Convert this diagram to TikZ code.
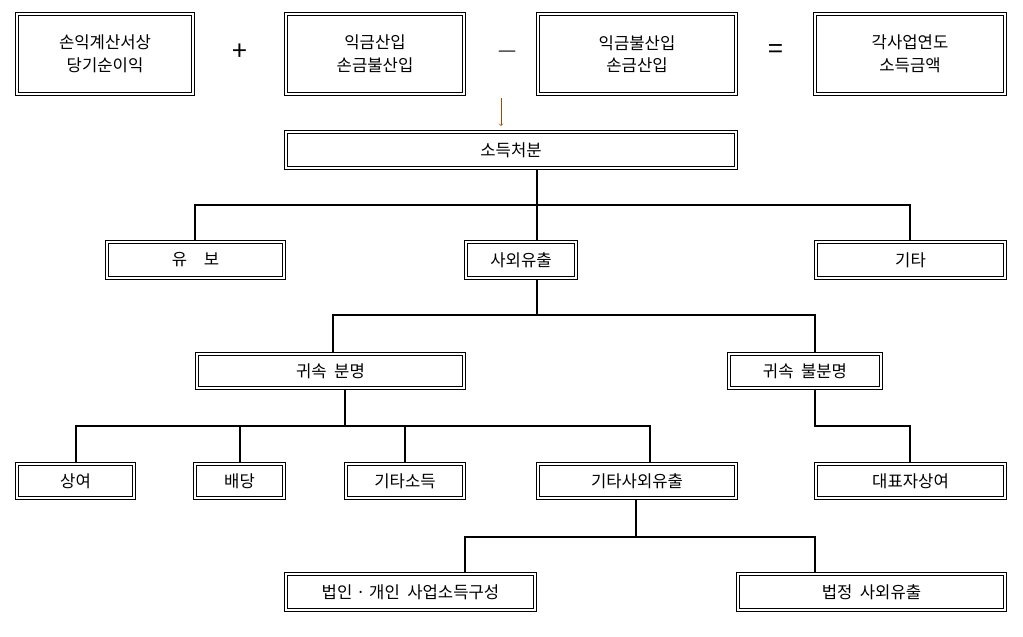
\documentclass[tikz,border=0pt]{standalone}
\usepackage{fontspec}
\setmainfont{Noto Sans CJK KR}
\usetikzlibrary{positioning}
\tikzset{
  box/.style={draw=black, line width=1.1pt, double=white, double distance=1.1pt,
    inner sep=0pt, font=\fontsize{12.5}{17}\selectfont, align=center},
  link/.style={line width=0.8pt},
  sign/.style={font=\fontsize{20}{20}\selectfont}
}
\newcommand{\pbox}[6]{% name, x1, y1, x2, y2, text
  \node[box, minimum width={(#4-#2-4)*0.75pt}, minimum height={(#5-#3-4)*0.75pt}]
    (#1) at ({(#2+#4)/2},{(#3+#5)/2}) {#6};}
\begin{document}
\begin{tikzpicture}[x=0.75pt,y=-0.75pt]
  \useasboundingbox (0,0) rectangle (1023,636);
  % top row
  \pbox{ik}{15}{12}{195}{96}{손익계산서상\\당기순이익}
  \pbox{plus}{284}{12}{466}{96}{익금산입\\손금불산입}
  \pbox{minus}{536}{12}{738}{96}{익금불산입\\손금산입}
  \pbox{sodeuk}{813}{12}{1007}{96}{각사업연도\\소득금액}
  \node[sign] (s1) at (240,52) {+};
  \node[sign] (s2) at (507,52) {$-$};
  \node[sign] (s3) at (776,52) {=};
  % second level
  \pbox{cheo}{284}{130}{738}{170}{소득처분}
  \coordinate (arrtop) at (501,98);
  \draw[->, thin, color=orange!60!black] (arrtop) -- (501,126);
  \pbox{yubo}{105}{240}{286}{280}{유\quad 보}
  \pbox{oe}{464}{240}{578}{280}{사외유출}
  \pbox{gita}{814}{240}{1007}{280}{기타}
  \pbox{myeong}{195}{352}{466}{390}{귀속\ \ 분명}
  \pbox{bul}{727}{352}{883}{390}{귀속\ \ 불분명}
  \pbox{sang}{15}{462}{136}{500}{상여}
  \pbox{bae}{193}{462}{286}{500}{배당}
  \pbox{gso}{344}{462}{466}{500}{기타소득}
  \pbox{goe}{536}{462}{738}{500}{기타사외유출}
  \pbox{dae}{814}{462}{1007}{500}{대표자상여}
  \pbox{beop}{284}{572}{537}{612}{법인 · 개인\ \ 사업소득구성}
  \pbox{beopj}{736}{572}{1007}{612}{법정\ \ 사외유출}
  % connectors
  \coordinate (j1) at (537,205);
  \draw[link] (cheo.south -| j1) -- (j1);
  \draw[link] (yubo.north -| 195,0) |- (j1) -| (gita.north -| 910,0);
  \draw[link] (j1) -- (oe.north -| j1);
  \coordinate (j2) at (537,315);
  \draw[link] (oe.south -| j2) -- (j2);
  \draw[link] (myeong.north -| 333,0) |- (j2) -| (bul.north -| 815,0);
  \coordinate (j3) at (345,426);
  \draw[link] (myeong.south -| j3) -- (j3);
  \draw[link] (sang.north -| 76,0) |- (j3) -| (goe.north -| 650,0);
  \draw[link] (j3 -| 240,0) -- (bae.north -| 240,0);
  \draw[link] (j3 -| 405,0) -- (gso.north -| 405,0);
  \coordinate (j4) at (815,426);
  \draw[link] (bul.south -| j4) -- (j4) -| (dae.north -| 910,0);
  \coordinate (j5) at (636,537);
  \draw[link] (goe.south -| j5) -- (j5);
  \draw[link] (beop.north -| 465,0) |- (j5) -| (beopj.north -| 815,0);
\end{tikzpicture}
\end{document}
